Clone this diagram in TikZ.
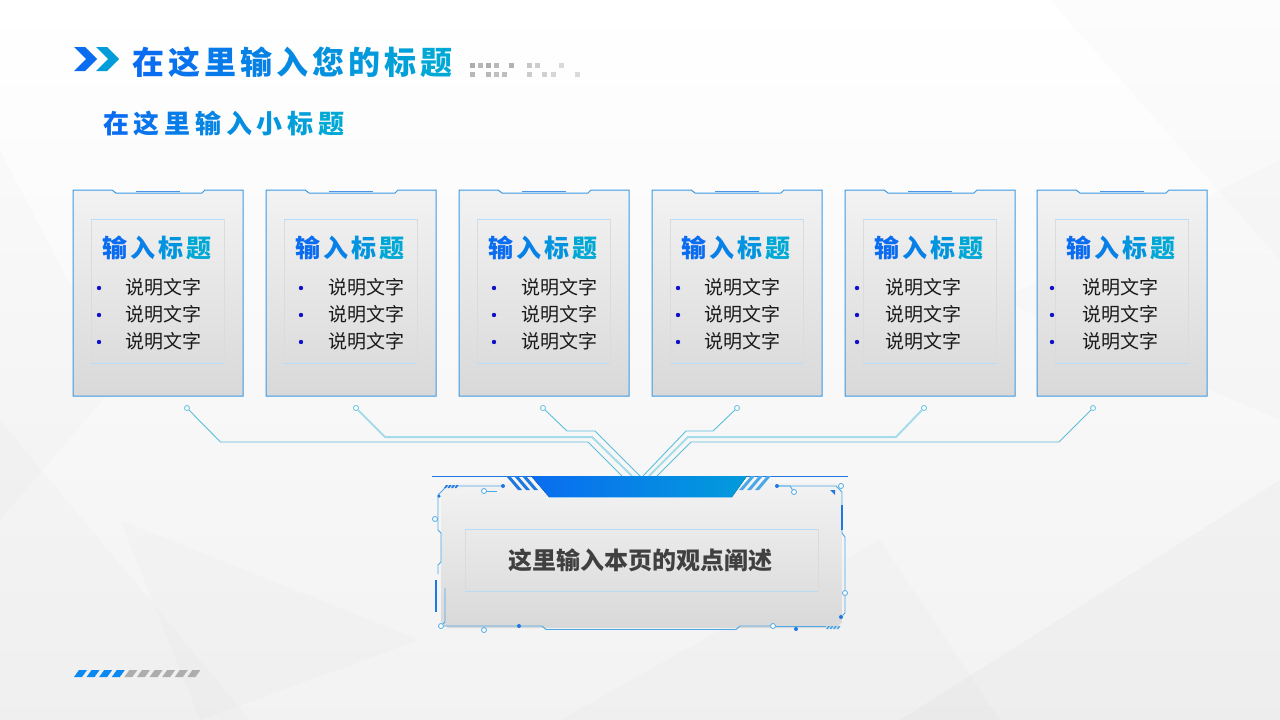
\documentclass[tikz,border=0pt]{standalone}
\usepackage{fontspec}
\newfontfamily\cjk{Noto Sans CJK SC}
\definecolor{tA}{HTML}{0A6CF0}
\definecolor{tB}{HTML}{00A8D6}
\definecolor{lineC}{HTML}{5BBEDD}
\definecolor{lineL}{HTML}{A6DCEA}
\definecolor{frameC}{HTML}{4AA8E8}
\definecolor{cardB}{HTML}{3A9AE6}
\definecolor{deepB}{HTML}{1E78E0}
\definecolor{bulC}{HTML}{1010C8}
\definecolor{txtC}{HTML}{1A1A1A}
\definecolor{boxT}{HTML}{404040}
\newlength\gsp
\newcommand\gc[2]{\textcolor{#1}{#2}\kern\gsp}
\begin{document}
\begin{tikzpicture}[x=1pt,y=-1pt,
  cardshape/.style={top color=white!95!black, bottom color=white!85!black, draw=cardB, line width=1pt},
  conn/.style={draw=lineC, line width=0.9pt},
  connL/.style={draw=lineL, line width=2pt},
  pin/.style={circle, draw=lineC, line width=0.8pt, minimum size=5pt, inner sep=0pt, fill=white},
  fpin/.style={circle, draw=frameC, line width=0.8pt, minimum size=5pt, inner sep=0pt, fill=white},
  fdot/.style={circle, fill=deepB, minimum size=4pt, inner sep=0pt},
  frame/.style={draw=frameC, line width=0.9pt},
  bullettxt/.style={anchor=west, inner sep=0pt, text=txtC, font=\cjk\fontsize{19}{19}\selectfont},
]
\useasboundingbox (0,0) rectangle (1280,720);
% background
\fill[top color=white, bottom color=white!95!black] (0,0) rectangle (1280,720);
\fill[black,opacity=0.012] (0,420) -- (250,720) -- (0,720) -- cycle;
\fill[black,opacity=0.012] (0,150) -- (120,380) -- (0,520) -- cycle;
\fill[black,opacity=0.018] (900,720) -- (1280,480) -- (1280,720) -- cycle;
\fill[black,opacity=0.012] (1050,0) -- (1280,0) -- (1280,260) -- cycle;
\fill[black,opacity=0.012] (560,720) -- (880,540) -- (1000,720) -- cycle;
\fill[black,opacity=0.01] (1000,300) -- (1280,160) -- (1280,420) -- cycle;
\fill[black,opacity=0.01] (120,520) -- (420,640) -- (200,720) -- cycle;

% header chevrons
\fill[tA] (74,47) -- (85,47) -- (97,59) -- (85,71) -- (74,71) -- (86,59) -- cycle;
\fill[tB!80!tA] (96,47) -- (107,47) -- (119,59) -- (107,71) -- (96,71) -- (108,59) -- cycle;
\node[anchor=west, inner sep=0pt, font=\cjk\bfseries\fontsize{32}{32}\selectfont] (title) at (132,62)
 {\setlength\gsp{4pt}\gc{tA}{在}\gc{tB!12!tA}{这}\gc{tB!25!tA}{里}\gc{tB!37!tA}{输}\gc{tB!50!tA}{入}\gc{tB!62!tA}{您}\gc{tB!75!tA}{的}\gc{tB!87!tA}{标}\textcolor{tB}{题}};
% pixel squares
\foreach \px/\c in {470/68,478/72,486/68,494/72,509/70,527/78,535/80,559/85}
  \fill[white!\c!black] (\px,63) rectangle ++(4.5,4.5);
\foreach \px/\c in {470/72,486/72,494/75,502/75,527/80,542/82,551/84,575/85}
  \fill[white!\c!black] (\px,72) rectangle ++(4.5,4.5);
\node[anchor=west, inner sep=0pt, font=\cjk\bfseries\fontsize{26}{26}\selectfont] (subtitle) at (103,124)
 {\setlength\gsp{4.7pt}\gc{tA}{在}\gc{tB!14!tA}{这}\gc{tB!28!tA}{里}\gc{tB!42!tA}{输}\gc{tB!56!tA}{入}\gc{tB!70!tA}{小}\gc{tB!85!tA}{标}\textcolor{tB}{题}};

% cards
\foreach \i/\x/\b/\t/\d in {1/73/26/52/187, 2/266/35/62/356, 3/459/35/62/543, 4/652/26/52/737, 5/845/12/40/924, 6/1037/15/45/1093}{
  \path[cardshape] (\x,190) -- (\x+39,190) -- (\x+43,193) -- (\x+129,193) -- (\x+132,190) -- (\x+170,190) -- (\x+170,396) -- (\x,396) -- cycle;
  \draw[deepB!80!white, line width=1.6pt] (\x+63,191.5) -- (\x+107,191.5);
  \draw[white!86!black, line width=0.5pt] (\x+18,219) -- (\x+18,363) (\x+151,219) -- (\x+151,363);
  \draw[frameC!40!white, line width=0.8pt] (\x+18,219) -- (\x+151,219) (\x+18,363) -- (\x+151,363);
  \node[inner sep=0pt, font=\cjk\bfseries\fontsize{25}{25}\selectfont] (ct\i) at (\x+84,248)
   {\setlength\gsp{2.7pt}\gc{tA}{输}\gc{tB!33!tA}{入}\gc{tB!67!tA}{标}\textcolor{tB}{题}};
  \foreach \yy in {287,314,341}{
    \fill[bulC] (\x+\b,\yy+1) circle (2.2pt);
    \node[bullettxt] at (\x+\t,\yy) {说明文字};
  }
  \node[pin] (p\i) at (\d,408) {};
}

% connector end points
\coordinate (e1) at (622,476);
\coordinate (e2) at (632,476);
\coordinate (e3) at (640,476);
\coordinate (e4) at (643,476);
\coordinate (e5) at (649,476);
\coordinate (e6) at (657,476);
\draw[conn] (p1) -- (220.5,442) -- (588,442) -- (e1);
\draw[connL] (p2) -- (385,437) -- (592,437) -- (e2);
\draw[conn] (p3) -- (567,431) -- (595,431) -- (e3);
\draw[conn] (p4) -- (713,431) -- (686,431) -- (e4);
\draw[connL] (p5) -- (896,437) -- (688,437) -- (e5);
\draw[conn] (p6) -- (1059,442) -- (691,442) -- (e6);

% bottom box
\path[top color=white!95!black, bottom color=white!85!black] (441,490) -- (448,483) -- (836,483) -- (842,490) -- (842,622) -- (836,628) -- (448,628) -- (441,622) -- cycle;
\draw[white!86!black, line width=0.5pt] (465,529) -- (465,591) (818,529) -- (818,591);
\draw[frameC!40!white, line width=0.8pt] (465,529) -- (818,529) (465,591) -- (818,591);
\node[inner sep=0pt, text=boxT, font=\cjk\bfseries\fontsize{24}{24}\selectfont] (claim) at (640,560) {这里输入本页的观点阐述};

% top thin line and band
\draw[deepB, line width=1.5pt] (432,476.5) -- (848,476.5);
\fill[left color=tA, right color=tB!80!tA] (531,476) -- (747,476) -- (732,497) -- (549,497) -- cycle;
\draw[frameC!60!white, line width=0.8pt] (549,497.5) -- (732,497.5);
\foreach \s in {0,1,2}{
  \fill[deepB] (506+8*\s,476) -- (510+8*\s,476) -- (522+8*\s,490) -- (518+8*\s,490) -- cycle;
  \fill[frameC] (751+8*\s,476) -- (755+8*\s,476) -- (743+8*\s,490) -- (739+8*\s,490) -- cycle;
}

% frame lines
\coordinate (fd4) at (770,626);
\draw[frame] (503,486) -- (447,486) -- (438,495) -- (438,530) -- (441,533) -- (441,562) -- (438,565) -- (438,574);
\node[fdot] (fd1) at (503,486) {};
\foreach \s in {0,1,2,3}
  \fill[deepB] (444+3.5*\s,488) -- (446+3.5*\s,488) -- (448+3.5*\s,485) -- (446+3.5*\s,485) -- cycle;
\node[fpin] (fc1) at (484,491) {};
\draw[frame] (fc1) -- (497,491);
\node[fpin] (fc2) at (435,519) {};
\node[fdot, minimum size=3.5pt] (fd2) at (439,496) {};
\draw[deepB, line width=1.6pt] (436,580) -- (436,612);
\node[fpin] (fc3) at (441,626) {};
\draw[frame] (445,588) -- (445,622) -- (fc3);
\draw[frame] (fc3) -- (542,626) -- (546,629.5) -- (736,629.5) -- (740,626) -- (fd4);
\node[fpin] (fc4) at (484,630) {};
\node[fdot] (fd3) at (519,626) {};
% right side
\node[fdot] (fd5) at (777,486) {};
\node[fpin] (fc5) at (794,492) {};
\draw[frame] (fd5) -- (836,486) -- (842,492) -- (842,533) -- (845,537) -- (845,590);
\draw[frame] (fd5) -- (790,486) -- (fc5);
\node[fpin] (fc6) at (841,486) {};
\fill[deepB] (830,490) -- (835,490) -- (835,495) -- cycle;
\draw[deepB, line width=1.6pt] (842,505) -- (842,530);
\node[fpin] (fc7) at (845,593) {};
\node[fdot] (fd6) at (841,617) {};
\draw[frame] (fc7) -- (845,613) -- (fd6);
\node[fpin] (fc8) at (773,626) {};
\draw[frame] (fc8) -- (826,626);
\node[fdot] (fd7) at (796,629) {};
\foreach \s in {0,1,2,3}
  \fill[frameC] (826+3.5*\s,629) -- (828+3.5*\s,629) -- (830+3.5*\s,626) -- (828+3.5*\s,626) -- cycle;

% bottom-left stripes
\foreach \s in {0,1,2,3}
  \fill[tA!80!cyan] (74+12.6*\s,677) -- (82+12.6*\s,677) -- (87+12.6*\s,670) -- (79+12.6*\s,670) -- cycle;
\foreach \s in {4,...,9}
  \fill[white!68!black] (74+12.6*\s,677) -- (82+12.6*\s,677) -- (87+12.6*\s,670) -- (79+12.6*\s,670) -- cycle;
\end{tikzpicture}
\end{document}
